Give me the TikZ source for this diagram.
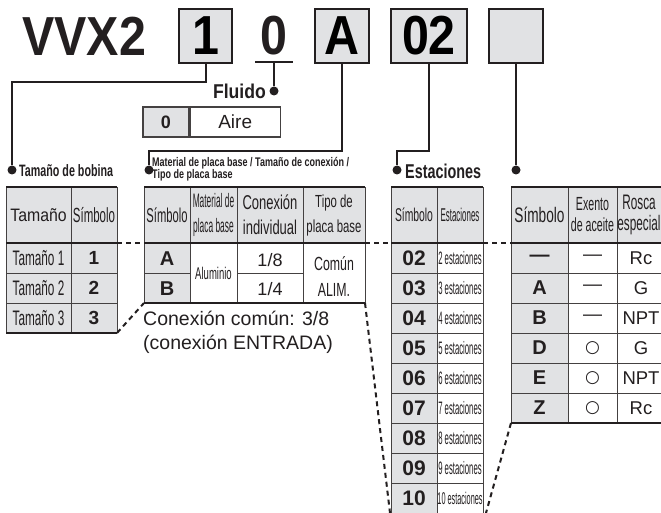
\documentclass[tikz,border=0pt]{standalone}
\usepackage{fontspec}
\setmainfont{Liberation Sans}
\newfontfamily\hv{Liberation Sans}
\newfontfamily\ncd[FakeStretch=0.88]{Liberation Sans}
\newfontfamily\cnd[FakeStretch=0.72]{Liberation Sans}
\newfontfamily\tcn[FakeStretch=0.65]{Liberation Sans}
\newfontfamily\ucn[FakeStretch=0.56]{Liberation Sans}
\newfontfamily\xcnd[FakeStretch=0.43]{Liberation Sans}
\newfontfamily\dvs{DejaVu Sans}
\definecolor{cellgray}{HTML}{E1E2E4}
\definecolor{ink}{HTML}{231F20}
\newcommand\fsz[1]{\fontsize{#1}{#1}\selectfont}
\newcommand\fszl[2]{\fontsize{#1}{#2}\selectfont}
\newcommand\wcirc{{\dvs\fsz{17}○}}
\begin{document}
\begin{tikzpicture}[x=1pt,y=-1pt,
  conn/.style={line width=2pt,draw=ink},
  dconn/.style={line width=2pt,draw=ink,dash pattern=on 5pt off 4pt},
  dotn/.style={circle,fill=ink,inner sep=0pt,minimum size=9pt},
  codebox/.style={draw=ink,line width=1.8pt,fill=cellgray,minimum height=54pt,inner sep=0pt,font=\ncd\bfseries\fsz{55}},
  thk/.style={line width=2pt,draw=ink},
  thn/.style={line width=0.9pt,draw=ink!85},
  lbl/.style={inner sep=0pt,text=ink},
  aircell/.style={draw=ink!85,line width=1.2pt,minimum height=30pt,inner sep=0pt,text=ink}]
\useasboundingbox (0,0) rectangle (661,513);
\fill[white] (0,0) rectangle (661,513);

% ---- code line ----
\node[lbl,anchor=base west,font=\ncd\bfseries\fsz{55}] (vvx) at (22,56) {VVX2};
\node[codebox,minimum width=53pt] (b1) at (205.5,36) {1};
\node[lbl,font=\ncd\bfseries\fsz{55}] (b0) at (274,36) {0};
\coordinate (b0l) at (255,62);
\coordinate (b0r) at (293,62);
\coordinate (b0u) at (274,62);
\draw[line width=1.8pt,draw=ink] (b0l) -- (b0r);
\node[codebox,minimum width=54pt] (bA) at (342,36) {A};
\node[codebox,minimum width=76pt] (b02) at (429,36) {02};
\node[codebox,minimum width=54pt] (be) at (516,36) {};

% ---- dots and labels ----
\node[dotn] (d0) at (274,91) {};
\node[lbl,anchor=east,font=\ncd\bfseries\fsz{20}] (fluido) at (266,91) {Fluido};
\node[dotn] (d1) at (12,170) {};
\node[lbl,anchor=west,font=\tcn\bfseries\fsz{16.5}] (bobina) at (19,171) {Tamaño de bobina};
\node[dotn] (d2) at (149,170) {};
\node[lbl,anchor=north west,align=left,font=\cnd\bfseries\fszl{12.5}{12}] (matl) at (152,157.5) {Material de placa base / Tamaño de conexión /\\Tipo de placa base};
\node[dotn] (d3) at (397,170) {};
\node[lbl,anchor=west,font=\cnd\bfseries\fsz{20}] (estl) at (405,171) {Estaciones};
\node[dotn] (d4) at (516,170) {};

% ---- connectors ----
\draw[conn] (b0u) -- (d0);
\draw[conn] (b1.south) -- ++(0,18) -| (d1);
\draw[conn] (bA.south) -- ++(0,87) -| (d2);
\draw[conn] (b02.south) -- ++(0,87) -| (d3);
\draw[conn] (be.south) -- (d4);

% ---- Fluido table ----
\node[aircell,fill=cellgray,minimum width=46pt,font=\hv\bfseries\fsz{18}] (f0) at (166,122) {0};
\node[aircell,fill=white,minimum width=90pt,font=\hv\fsz{19},anchor=west] (faire) at (f0.east) {Aire};

% ---- Table 1 ----
\fill[cellgray] (6,187) rectangle (117,333);
\draw[thn] (6,187) -- (6,333) (71,187) -- (71,333) (117,187) -- (117,333)
  (6,273) -- (117,273) (6,303) -- (117,303);
\draw[thk] (6,187) -- (117,187) (6,243) -- (117,243) (6,333) -- (117,333);
\node[lbl,font=\ncd\fsz{18}] (t1h1) at (38.5,215) {Tamaño};
\node[lbl,font=\ucn\fsz{20.5}] (t1h2) at (94,215) {Símbolo};
\foreach \k in {1,2,3}{
  \node[lbl,font=\ucn\fsz{21}] (t1a\k) at (38.5,228+30*\k) {Tamaño \k};
  \node[lbl,font=\hv\bfseries\fsz{19}] (t1b\k) at (94,228+30*\k) {\k};
}

% ---- Table 2 ----
\fill[cellgray] (144,187) rectangle (365,243);
\fill[cellgray] (144,243) rectangle (190,303);
\draw[thn] (144,187) -- (144,303) (190,187) -- (190,303) (237,187) -- (237,303)
  (303,187) -- (303,303) (365,187) -- (365,303)
  (144,273) -- (190,273) (237,273) -- (303,273);
\draw[thk] (144,187) -- (365,187) (144,243) -- (365,243) (144,303) -- (365,303);
\node[lbl,font=\ucn\fsz{20}] (t2h1) at (167,215) {Símbolo};
\node[lbl,align=center,font=\xcnd\fszl{19.5}{25}] (t2h2) at (213.5,215) {Material de\\placa base};
\node[lbl,align=center,font=\tcn\fszl{20}{25}] (t2h3) at (270,215) {Conexión\\individual};
\node[lbl,align=center,font=\tcn\fszl{17.5}{25}] (t2h4) at (334,215) {Tipo de\\placa base};
\node[lbl,font=\hv\bfseries\fsz{20}] (t2a1) at (167,259) {A};
\node[lbl,font=\hv\bfseries\fsz{20}] (t2a2) at (167,289) {B};
\node[lbl,font=\ucn\fsz{17}] (t2b) at (213.5,273) {Aluminio};
\node[lbl,font=\hv\fsz{18}] (t2c1) at (270,260) {1/8};
\node[lbl,font=\hv\fsz{18}] (t2c2) at (270,289) {1/4};
\node[lbl,align=center,font=\tcn\fszl{19}{26}] (t2d) at (334,277) {Común\\ALIM.};
\node[lbl,anchor=north west,align=left,font=\hv\fszl{19.5}{24}] (comun) at (143,311) {Conexión común: 3/8\\(conexión ENTRADA)};

% ---- Table 3 ----
\fill[cellgray] (391,187) rectangle (483,243);
\fill[cellgray] (391,243) rectangle (437,520);
\draw[thn] (391,187) -- (391,520) (437,187) -- (437,520) (483,187) -- (483,520);
\foreach \k in {0,...,7}{\draw[thn] (391,273+30*\k) -- (483,273+30*\k);}
\draw[thk] (391,187) -- (483,187) (391,243) -- (483,243);
\node[lbl,font=\ucn\fsz{18.5}] (t3h1) at (414,215) {Símbolo};
\node[lbl,font=\xcnd\fsz{18.5}] (t3h2) at (460,215) {Estaciones};
\foreach \c/\n/\s [count=\k from 0] in {02/2/18,03/3/18,04/4/18,05/5/18,06/6/18,07/7/18,08/8/18,09/9/18,10/10/17}{
  \node[lbl,font=\hv\bfseries\fsz{21}] (t3a\k) at (414,258+30*\k) {\c};
  \node[lbl,font=\xcnd\fsz{\s}] (t3b\k) at (460,258+30*\k) {\n\ estaciones};
}

% ---- Table 4 ----
\fill[cellgray] (511,187) rectangle (670,243);
\fill[cellgray] (511,243) rectangle (568,423);
\draw[thn] (511,187) -- (511,423) (568,187) -- (568,423) (617,187) -- (617,423) (666,187) -- (666,423);
\foreach \k in {0,...,4}{\draw[thn] (511,273+30*\k) -- (670,273+30*\k);}
\draw[thk] (511,187) -- (670,187) (511,243) -- (670,243) (511,423) -- (670,423);
\node[lbl,font=\tcn\fsz{21}] (t4h1) at (539.5,215) {Símbolo};
\node[lbl,align=center,font=\ucn\fszl{19}{21}] (t4h2) at (592.5,215) {Exento\\de aceite};
\node[lbl,align=center,font=\ucn\fszl{21}{21}] (t4h3) at (639,215) {Rosca\\especial};
\foreach \a/\b/\c [count=\k from 0] in {—/—/Rc,A/—/G,B/—/NPT,D/\wcirc/G,E/\wcirc/NPT,Z/\wcirc/Rc}{
  \node[lbl,font=\hv\bfseries\fsz{20}] (t4a\k) at (539.5,258+30*\k) {\a};
  \node[lbl,font=\hv\fsz{19}] (t4b\k) at (592.5,258+30*\k) {\b};
  \node[lbl,font=\hv\fsz{18.5}] (t4c\k) at (641,258+30*\k) {\c};
}

% ---- dashed links ----
\coordinate (t1hr) at (117,243); \coordinate (t2hl) at (144,243);
\coordinate (t1br) at (117,333); \coordinate (t2bl) at (144,303);
\coordinate (t2hr) at (365,243); \coordinate (t3hl) at (391,243);
\coordinate (t2br) at (365,303); \coordinate (t3bl) at (390,513);
\coordinate (t3hr) at (483,243); \coordinate (t4hl) at (511,243);
\coordinate (t4bl) at (511,423); \coordinate (t3br) at (486,513);
\draw[dconn] (t1hr) -- (t2hl);
\draw[dconn] (t1br) -- (t2bl);
\draw[dconn] (t2hr) -- (t3hl);
\draw[dconn] (t2br) -- (t3bl);
\draw[dconn] (t3hr) -- (t4hl);
\draw[dconn] (t4bl) -- (t3br);
\end{tikzpicture}
\end{document}
